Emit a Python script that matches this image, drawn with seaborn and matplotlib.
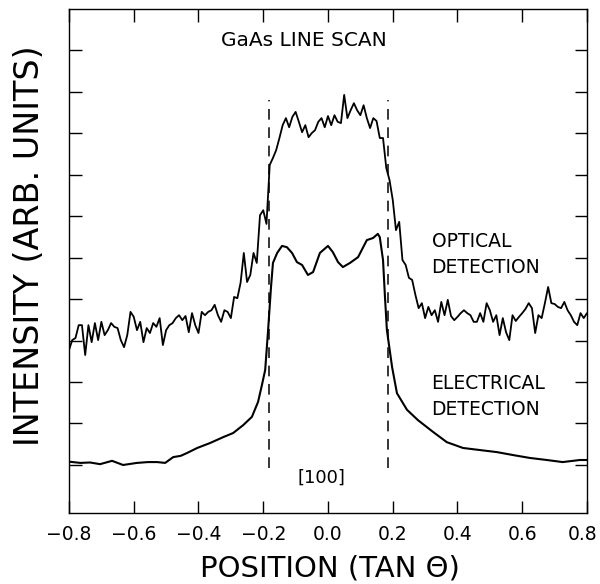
import numpy as np
import pandas as pd
import matplotlib
matplotlib.use("Agg")
import matplotlib.pyplot as plt
import matplotlib.transforms as mtransforms
import seaborn as sns

# ---------------- data ----------------
position = np.linspace(-0.8, 0.8, 161)          # sampling grid (tan theta)
optical = [
    2.77, 3.01, 3.06, 3.37, 3.37, 2.65, 3.37, 2.96, 3.42, 3.01,
    3.45, 3.13, 3.25, 3.42, 3.33, 3.30, 3.01, 2.84, 3.13, 3.69,
    3.57, 3.25, 3.45, 2.96, 3.30, 3.18, 3.42, 3.33, 3.54, 2.89,
    3.25, 3.37, 3.42, 3.54, 3.61, 3.49, 3.59, 3.20, 3.66, 3.37,
    3.18, 3.69, 3.61, 3.69, 3.73, 3.86, 3.61, 3.45, 3.73, 3.69,
    3.54, 4.05, 4.02, 4.39, 5.11, 4.41, 4.58, 5.11, 4.87, 6.02,
    6.14, 5.81, 7.23, 7.40, 7.59, 7.88, 8.19, 8.36, 8.14, 8.39,
    8.51, 8.27, 8.02, 8.19, 7.90, 8.00, 8.07, 8.27, 8.36, 8.14,
    8.41, 8.19, 8.43, 8.27, 8.24, 8.92, 8.36, 8.55, 8.72, 8.55,
    8.43, 8.67, 8.36, 8.12, 8.36, 8.29, 7.88, 7.88, 7.16, 6.87,
    6.39, 5.66, 5.86, 4.94, 4.82, 4.51, 4.46, 4.10, 3.78, 3.90,
    3.54, 3.81, 3.61, 3.73, 3.45, 3.93, 3.61, 3.98, 3.59, 3.49,
    3.57, 3.66, 3.73, 3.66, 3.61, 3.45, 3.45, 3.66, 3.45, 3.90,
    3.73, 3.45, 3.61, 3.13, 3.54, 3.20, 3.01, 3.61, 3.47, 3.57,
    3.66, 3.76, 3.90, 3.78, 3.18, 3.61, 3.54, 3.90, 4.29, 3.90,
    3.88, 3.81, 3.78, 3.93, 3.73, 3.61, 3.45, 3.37, 3.66, 3.54, 3.66,
]

elec_pos = [
    -0.80, -0.765, -0.735, -0.704, -0.667, -0.633, -0.59, -0.556, -0.528, -0.503,
    -0.478, -0.455, -0.435, -0.404, -0.364, -0.324, -0.293, -0.262, -0.235, -0.216,
    -0.204, -0.194, -0.185, -0.176, -0.170, -0.157, -0.142, -0.127, -0.111, -0.096,
    -0.080, -0.062, -0.046, -0.025, 0.0, 0.015, 0.031, 0.046, 0.068, 0.093,
    0.120, 0.139, 0.154, 0.160, 0.170, 0.176, 0.182, 0.198, 0.213, 0.244,
    0.278, 0.324, 0.367, 0.417, 0.469, 0.522, 0.571, 0.623, 0.676, 0.725,
    0.778, 0.80,
]
elec_int = [
    0.08, 0.05, 0.06, 0.02, 0.10, 0.0, 0.05, 0.07, 0.07, 0.05,
    0.19, 0.22, 0.29, 0.41, 0.53, 0.67, 0.77, 0.96, 1.16, 1.52,
    1.93, 2.29, 3.25, 4.29, 4.87, 5.11, 5.28, 5.25, 5.11, 4.89,
    4.82, 4.58, 4.65, 5.11, 5.28, 5.13, 4.89, 4.77, 4.87, 5.01,
    5.42, 5.47, 5.57, 5.49, 4.94, 4.05, 3.25, 2.36, 1.73, 1.33,
    1.08, 0.80, 0.55, 0.41, 0.36, 0.31, 0.24, 0.17, 0.12, 0.07,
    0.12, 0.12,
]

boundary_pos = [-0.183, 0.185]
boundary_span = [-0.07, 8.8]

xtick_vals = [-0.8, -0.6, -0.4, -0.2, 0.0, 0.2, 0.4, 0.6, 0.8]
xtick_labels = ["\u22120.8", "\u22120.6", "\u22120.4", "\u22120.2", "0.0", "0.2", "0.4", "0.6", "0.8"]
ytick_vals = list(range(0, 11))

# ---------------- plot ----------------
sns.set_style("ticks")
plt.rcParams["font.family"] = ["DejaVu Sans"]
plt.rcParams["text.color"] = "black"
plt.rcParams["axes.labelcolor"] = "black"

fig = plt.figure(figsize=(6.0, 5.84), dpi=100)
ax = fig.add_axes([0.115, 0.1216, 0.8633, 0.863])

opt_df = pd.DataFrame({"pos": position, "val": optical})
ele_df = pd.DataFrame({"pos": elec_pos, "val": elec_int})

sns.lineplot(data=opt_df, x="pos", y="val", ax=ax, color="black", lw=1.3,
             estimator=None, sort=False)
sns.lineplot(data=ele_df, x="pos", y="val", ax=ax, color="black", lw=1.5,
             estimator=None, sort=False)

ax.vlines(boundary_pos, boundary_span[0], boundary_span[1], colors="black",
          lw=1.1, linestyles=(0, (7, 5)))

ax.set_xlim(-0.8, 0.8)
ax.set_ylim(-1.157, 10.99)
ax.set_xticks(xtick_vals)
ax.set_xticklabels(xtick_labels, fontsize=13.5, color="black")
ax.set_yticks(ytick_vals)
ax.tick_params(axis="both", direction="in", length=9, width=1, top=True,
               right=True, labelleft=False, colors="black")
ax.tick_params(axis="x", pad=9)
for s in ax.spines.values():
    s.set_linewidth(1.0)
    s.set_color("black")

# nudge the last tick label a few pixels left so it stays inside the figure
last = ax.get_xticklabels()[-1]
last.set_transform(last.get_transform() +
                   mtransforms.ScaledTranslation(-4 / 100, 0, fig.dpi_scale_trans))

ax.set_xlabel("POSITION (TAN \u0398)", fontsize=21)
ax.set_ylabel("INTENSITY (ARB. UNITS)", fontsize=24)
ax.xaxis.set_label_coords(0.504, -0.083)
ax.yaxis.set_label_coords(-0.045, 0.53)

ax.text(-0.075, 10.24, "GaAs LINE SCAN", ha="center", va="center", fontsize=14.5)
ax.text(0.32, 5.08, "OPTICAL\nDETECTION", ha="left", va="center",
        fontsize=13.5, linespacing=1.45)
ax.text(0.32, 1.65, "ELECTRICAL\nDETECTION", ha="left", va="center",
        fontsize=13.5, linespacing=1.45)
ax.text(-0.02, -0.31, "[100]", ha="center", va="center", fontsize=13)

fig.savefig("out.png", dpi=100)
